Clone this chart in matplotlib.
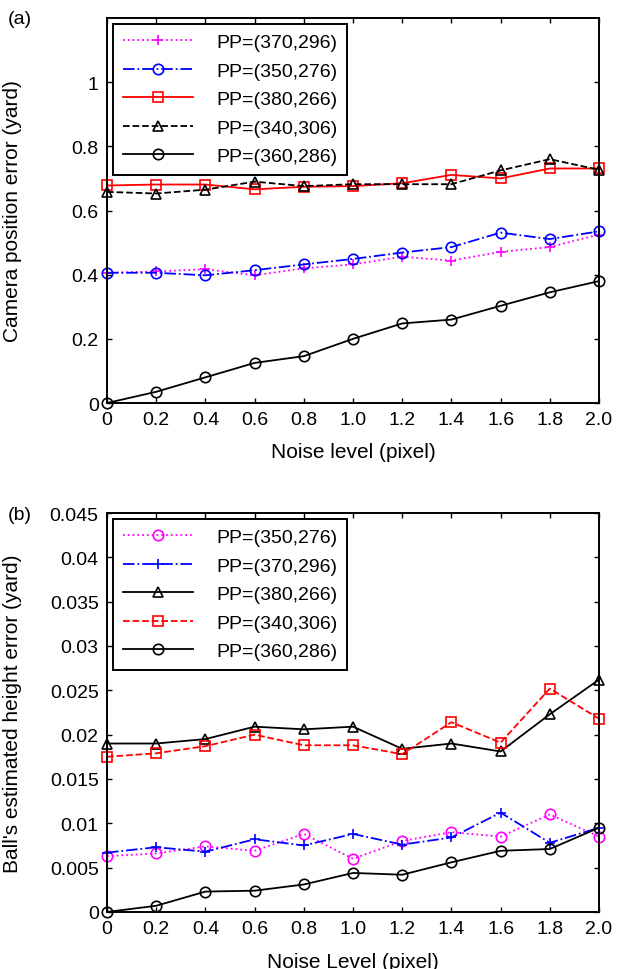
import matplotlib
matplotlib.use("Agg")
import matplotlib.pyplot as plt
from matplotlib.ticker import FixedLocator, FixedFormatter

plt.rcParams['font.family'] = ['Liberation Sans', 'DejaVu Sans']

# Noise levels (pixel)
noise = [0.0, 0.2, 0.4, 0.6, 0.8, 1.0, 1.2, 1.4, 1.6, 1.8, 2.0]
noise_labels = ["0", "0.2", "0.4", "0.6", "0.8", "1.0", "1.2", "1.4", "1.6", "1.8", "2.0"]

# (a) camera position error (yard)
cam_370_296 = [0.406, 0.410, 0.417, 0.398, 0.420, 0.432, 0.456, 0.444, 0.471, 0.486, 0.525]
cam_350_276 = [0.406, 0.406, 0.398, 0.414, 0.432, 0.449, 0.469, 0.486, 0.531, 0.511, 0.535]
cam_380_266 = [0.678, 0.681, 0.681, 0.666, 0.674, 0.676, 0.685, 0.711, 0.700, 0.731, 0.731]
cam_340_306 = [0.658, 0.653, 0.665, 0.690, 0.676, 0.682, 0.682, 0.682, 0.725, 0.760, 0.727]
cam_360_286 = [0.000, 0.035, 0.080, 0.125, 0.146, 0.200, 0.248, 0.260, 0.303, 0.345, 0.380]
cam_yticks = [0, 0.2, 0.4, 0.6, 0.8, 1.0]
cam_ylabels = ["0", "0.2", "0.4", "0.6", "0.8", "1"]

# (b) ball's estimated height error (yard)
h_350_276 = [0.0063, 0.0066, 0.0074, 0.0069, 0.0088, 0.0060, 0.0080, 0.0090, 0.0085, 0.0110, 0.0085]
h_370_296 = [0.0067, 0.0073, 0.0068, 0.0082, 0.0075, 0.0088, 0.0076, 0.0084, 0.0112, 0.0078, 0.0095]
h_380_266 = [0.0190, 0.0190, 0.0195, 0.0209, 0.0206, 0.0209, 0.0184, 0.0190, 0.0181, 0.0223, 0.0262]
h_340_306 = [0.0175, 0.0179, 0.0187, 0.0200, 0.0188, 0.0188, 0.0178, 0.0214, 0.0191, 0.0252, 0.0218]
h_360_286 = [0.0000, 0.0007, 0.0023, 0.0024, 0.0031, 0.0044, 0.0042, 0.0056, 0.0069, 0.0071, 0.0095]
h_yticks = [0, 0.005, 0.01, 0.015, 0.02, 0.025, 0.03, 0.035, 0.04, 0.045]
h_ylabels = ["0", "0.005", "0.01", "0.015", "0.02", "0.025", "0.03", "0.035", "0.04", "0.045"]

TICK_FS = 14
LABEL_FS = 15
LEG_FS = 14
LW = 1.3
MS = 7.5
MEW = 1.2

fig = plt.figure(figsize=(6.31, 9.70), dpi=100)
ax_a = fig.add_axes([0.1696, 0.5835, 0.7797, 0.3969])
ax_b = fig.add_axes([0.1696, 0.0588, 0.7797, 0.4113])


def series(ax, y, color, ls, marker, label):
    ax.plot(noise, y, color=color, linestyle=ls, linewidth=LW, marker=marker,
            markersize=MS, markerfacecolor='none', markeredgecolor=color,
            markeredgewidth=MEW, label=label, clip_on=False)


def style(ax, yticks, ylabels, ymax, ylabel, xlabel, xlab_y):
    ax.set_xlim(0, 2.0)
    ax.set_ylim(0, ymax)
    ax.xaxis.set_major_locator(FixedLocator(noise))
    ax.xaxis.set_major_formatter(FixedFormatter(noise_labels))
    ax.yaxis.set_major_locator(FixedLocator(yticks))
    ax.yaxis.set_major_formatter(FixedFormatter(ylabels))
    ax.tick_params(direction='in', top=True, right=True, length=3.6,
                   width=1.0, labelsize=TICK_FS, pad=6)
    for s in ax.spines.values():
        s.set_linewidth(1.4)
    ax.set_ylabel(ylabel, fontsize=LABEL_FS)
    ax.yaxis.set_label_coords(-0.172, 0.5)
    ax.set_xlabel(xlabel, fontsize=LABEL_FS)
    ax.xaxis.set_label_coords(0.5, xlab_y)
    leg = ax.legend(loc='upper left', fontsize=LEG_FS, handlelength=3.6,
                    handletextpad=1.2, labelspacing=0.56, borderpad=0.5,
                    borderaxespad=0.3, fancybox=False, framealpha=1,
                    edgecolor='black')
    leg.get_frame().set_linewidth(1.4)


series(ax_a, cam_370_296, '#ff00ff', ':', '+', 'PP=(370,296)')
series(ax_a, cam_350_276, '#0000ff', '-.', 'o', 'PP=(350,276)')
series(ax_a, cam_380_266, '#ff0000', '-', 's', 'PP=(380,266)')
series(ax_a, cam_340_306, 'black', '--', '^', 'PP=(340,306)')
series(ax_a, cam_360_286, 'black', '-', 'o', 'PP=(360,286)')
style(ax_a, cam_yticks, cam_ylabels, 1.2, 'Camera position error (yard)',
      'Noise level (pixel)', -0.100)

series(ax_b, h_350_276, '#ff00ff', ':', 'o', 'PP=(350,276)')
series(ax_b, h_370_296, '#0000ff', '-.', '+', 'PP=(370,296)')
series(ax_b, h_380_266, 'black', '-', '^', 'PP=(380,266)')
series(ax_b, h_340_306, '#ff0000', '--', 's', 'PP=(340,306)')
series(ax_b, h_360_286, 'black', '-', 'o', 'PP=(360,286)')
style(ax_b, h_yticks, h_ylabels, 0.045, "Ball's estimated height error (yard)",
      'Noise Level (pixel)', -0.100)

fig.text(8 / 631, 1 - 20 / 970, '(a)', fontsize=TICK_FS, va='center', ha='left')
fig.text(8 / 631, 1 - 516 / 970, '(b)', fontsize=TICK_FS, va='center', ha='left')

fig.savefig('out.png', dpi=100)
